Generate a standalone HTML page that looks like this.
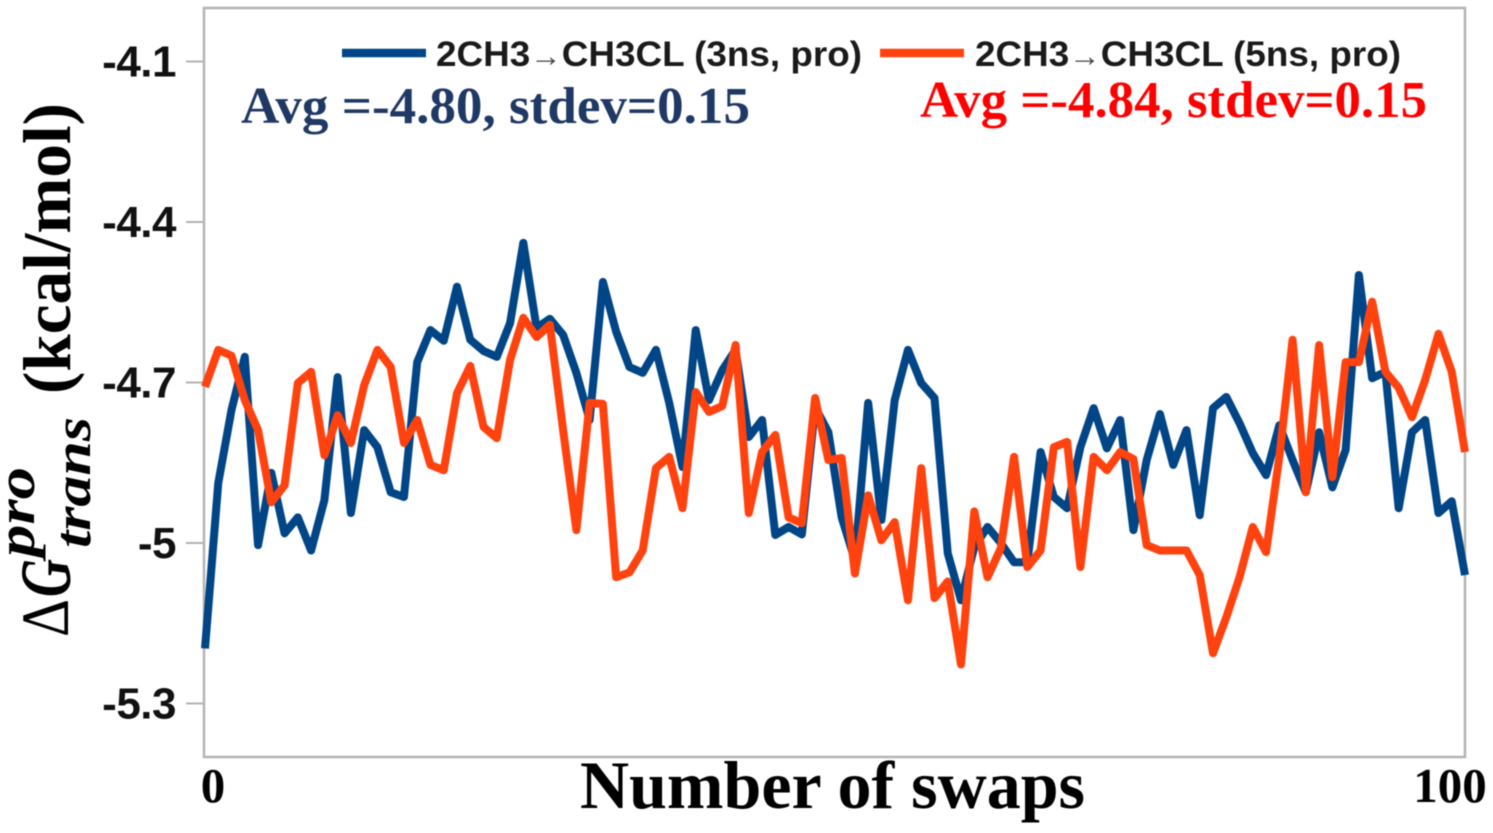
<!DOCTYPE html>
<html lang="en">
<head>
<meta charset="utf-8">
<title>Number of swaps chart</title>
<style>
html,body{margin:0;padding:0;background:#fff;}
svg{display:block;filter:blur(0.5px);}
text{font-family:"Liberation Sans",sans-serif;}
.serif{font-family:"Liberation Serif",serif;font-weight:bold;}
</style>
</head>
<body>
<svg id="chart" xmlns="http://www.w3.org/2000/svg" width="1493" height="833" viewBox="0 0 1493 833">
  <rect x="204" y="8" width="1261" height="749" fill="#fff" stroke="#b3b3b3" stroke-width="2.5"/>
  <g id="y-axis"></g>
  <g id="x-axis"></g>
  <g id="series"></g>

  <line x1="342" y1="53" x2="426" y2="53" stroke="#004586" stroke-width="8.5"/>
  <text x="436" y="66" font-size="35" font-weight="bold" fill="#1a1a1a" textLength="426" lengthAdjust="spacingAndGlyphs">2CH3<tspan font-size="30" font-weight="normal" fill="#444">→</tspan>CH3CL (3ns, pro)</text>
  <line x1="880" y1="53" x2="964" y2="53" stroke="#ff420e" stroke-width="8.5"/>
  <text x="975" y="66" font-size="35" font-weight="bold" fill="#1a1a1a" textLength="426" lengthAdjust="spacingAndGlyphs">2CH3<tspan font-size="30" font-weight="normal" fill="#444">→</tspan>CH3CL (5ns, pro)</text>

  <text class="serif" x="241" y="123" font-size="52" fill="#1f3864" textLength="509" lengthAdjust="spacingAndGlyphs">Avg =-4.80, stdev=0.15</text>
  <text class="serif" x="920" y="117" font-size="52" fill="#ff0000" textLength="507" lengthAdjust="spacingAndGlyphs">Avg =-4.84, stdev=0.15</text>

  <text class="serif" x="580" y="808" font-size="68" fill="#000" textLength="505" lengthAdjust="spacingAndGlyphs">Number of swaps</text>

  <g>
    <text class="serif" transform="translate(70,394) rotate(-90)" font-size="68" fill="#000" textLength="291" lengthAdjust="spacingAndGlyphs">(kcal/mol)</text>
    <text transform="translate(68,637) rotate(-90)" font-size="68" fill="#000" style="font-family:'Liberation Serif','DejaVu Serif',serif" textLength="38" lengthAdjust="spacingAndGlyphs">Δ</text>
    <text class="serif" transform="translate(70,597) rotate(-90)" font-size="72" font-style="italic" fill="#000" textLength="38" lengthAdjust="spacingAndGlyphs">G</text>
    <text class="serif" transform="translate(34,557) rotate(-90)" font-size="54" font-style="italic" fill="#000" textLength="90" lengthAdjust="spacingAndGlyphs">pro</text>
    <text class="serif" transform="translate(90,548) rotate(-90)" font-size="52" font-style="italic" fill="#000" textLength="131" lengthAdjust="spacingAndGlyphs">trans</text>
  </g>
</svg>
<script>
const yTicks = [-4.1, -4.4, -4.7, -5, -5.3];
const yTickLabels = ["-4.1", "-4.4", "-4.7", "-5", "-5.3"];
const xTickLabels = ["0", "100"];
const series3ns = [
-5.197,-4.888,-4.751,-4.652,-5.004,-4.869,-4.982,-4.952,-5.014,-4.920,
-4.690,-4.944,-4.789,-4.821,-4.905,-4.914,-4.662,-4.602,-4.622,-4.521,
-4.620,-4.641,-4.652,-4.589,-4.439,-4.598,-4.581,-4.611,-4.682,-4.770,
-4.512,-4.605,-4.671,-4.682,-4.639,-4.738,-4.858,-4.602,-4.733,-4.677,
-4.639,-4.802,-4.770,-4.985,-4.970,-4.984,-4.746,-4.793,-4.952,-5.032,
-4.738,-4.957,-4.733,-4.639,-4.701,-4.729,-5.019,-5.107,-5.008,-4.970,
-5.000,-5.036,-5.036,-4.830,-4.914,-4.935,-4.821,-4.748,-4.823,-4.770,
-4.976,-4.845,-4.759,-4.854,-4.789,-4.948,-4.748,-4.727,-4.776,-4.832,
-4.873,-4.780,-4.845,-4.905,-4.793,-4.896,-4.826,-4.499,-4.692,-4.680,
-4.935,-4.793,-4.770,-4.944,-4.922,-5.060
];
const series5ns = [
-4.708,-4.639,-4.650,-4.733,-4.789,-4.924,-4.892,-4.701,-4.680,-4.836,
-4.761,-4.813,-4.705,-4.639,-4.671,-4.813,-4.770,-4.854,-4.864,-4.720,
-4.669,-4.783,-4.804,-4.658,-4.579,-4.615,-4.592,-4.789,-4.976,-4.738,
-4.740,-5.064,-5.055,-5.014,-4.860,-4.839,-4.935,-4.718,-4.755,-4.744,
-4.630,-4.944,-4.830,-4.798,-4.952,-4.963,-4.729,-4.845,-4.841,-5.057,
-4.911,-4.995,-4.961,-5.107,-4.860,-5.103,-5.072,-5.227,-4.941,-5.064,
-5.010,-4.839,-5.045,-5.014,-4.821,-4.811,-5.045,-4.839,-4.864,-4.830,
-4.843,-5.004,-5.014,-5.014,-5.014,-5.060,-5.206,-5.139,-5.064,-4.970,
-5.017,-4.839,-4.620,-4.905,-4.630,-4.877,-4.662,-4.662,-4.549,-4.680,
-4.710,-4.765,-4.695,-4.609,-4.680,-4.830
];

const NS = "http://www.w3.org/2000/svg";
const plot = {left: 205, right: 1465, top: 8, bottom: 757};
const yDomain = [-5.4, -4.0];

function xScale(i, n) {
  return plot.left + i * (plot.right - plot.left) / (n - 1);
}
function yScale(v) {
  return plot.bottom - (v - yDomain[0]) * (plot.bottom - plot.top) / (yDomain[1] - yDomain[0]);
}

const yAxis = document.getElementById("y-axis");
yTicks.forEach(function (v, i) {
  const y = yScale(v);
  const tick = document.createElementNS(NS, "line");
  
  
  tick.setAttribute("x1", 186);
  tick.setAttribute("x2", 204);
  tick.setAttribute("y1", y);
  tick.setAttribute("y2", y);
  tick.setAttribute("stroke", "#b3b3b3");
  tick.setAttribute("stroke-width", "2");
  yAxis.appendChild(tick);
  const label = document.createElementNS(NS, "text");
  
  
  label.setAttribute("x", 176);
  label.setAttribute("y", y + 15);
  label.setAttribute("text-anchor", "end");
  label.setAttribute("font-size", "44");
  label.setAttribute("font-weight", "bold");
  label.setAttribute("fill", "#111");
  label.setAttribute("letter-spacing", "-0.5");
  label.textContent = yTickLabels[i];
  yAxis.appendChild(label);
});

const xAxis = document.getElementById("x-axis");
xTickLabels.forEach(function (t, i) {
  const label = document.createElementNS(NS, "text");
  
  
  label.setAttribute("class", "serif");
  label.setAttribute("x", i === 0 ? plot.left + 8 : plot.right - 15);
  label.setAttribute("y", 802);
  label.setAttribute("text-anchor", "middle");
  label.setAttribute("font-size", "49");
  label.setAttribute("fill", "#000");
  label.textContent = t;
  xAxis.appendChild(label);
});

function drawSeries(values, color, name) {
  const pts = values.map(function (v, i) {
    return xScale(i, values.length).toFixed(2) + "," + yScale(v).toFixed(2);
  }).join(" ");
  const line = document.createElementNS(NS, "polyline");
  
  
  line.setAttribute("points", pts);
  line.setAttribute("fill", "none");
  line.setAttribute("stroke", color);
  line.setAttribute("stroke-width", "8");
  line.setAttribute("stroke-linejoin", "round");
  document.getElementById("series").appendChild(line);
}
drawSeries(series3ns, "#004586", "series-3ns-line");
drawSeries(series5ns, "#ff420e", "series-5ns-line");
</script>
</body>
</html>
